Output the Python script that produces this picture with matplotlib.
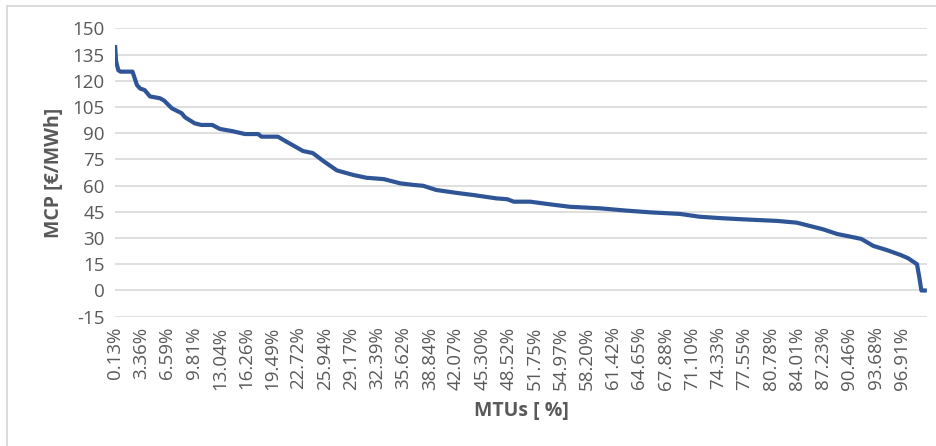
import matplotlib
matplotlib.use('Agg')
import matplotlib.pyplot as plt
from matplotlib.lines import Line2D

plt.rcParams['font.family'] = ['Open Sans', 'DejaVu Sans']
plt.rcParams['axes.unicode_minus'] = False

# MTU index (hour of month, 1..744) and market clearing price
mtu_hour = [1, 2, 4, 6, 17, 21, 24, 28, 33, 42, 46, 53, 62, 65, 74, 80, 90, 97,
            108, 120, 132, 135, 150, 158, 173, 182, 192, 204, 219, 231, 247, 262,
            274, 283, 295, 314, 329, 350, 360, 366, 381, 399, 417, 445, 469, 491,
            518, 536, 555, 576, 607, 625, 637, 649, 662, 674, 684, 695, 707, 720,
            727, 735, 737, 739, 744]
mcp = [140.4, 131.0, 126.0, 125.2, 125.2, 117.6, 115.5, 114.7, 111.0, 110.0,
       108.6, 104.2, 101.4, 99.1, 95.6, 94.7, 94.7, 92.4, 91.2, 89.5, 89.5, 88.0,
       88.0, 85.1, 79.8, 78.6, 73.9, 68.7, 66.1, 64.5, 63.7, 61.3, 60.4, 59.9,
       57.5, 55.8, 54.6, 52.7, 52.2, 50.8, 50.8, 49.3, 47.9, 47.0, 45.7, 44.7,
       43.8, 42.2, 41.4, 40.7, 39.8, 38.8, 36.9, 35.0, 32.3, 30.8, 29.5, 25.5,
       23.2, 20.3, 18.4, 15.0, 7.9, 0.0, 0.0]

n_mtu = 744
tick_hours = list(range(1, n_mtu + 1, 24))
tick_labels = ['0.13%', '3.36%', '6.59%', '9.81%', '13.04%', '16.26%', '19.49%',
               '22.72%', '25.94%', '29.17%', '32.39%', '35.62%', '38.84%', '42.07%',
               '45.30%', '48.52%', '51.75%', '54.97%', '58.20%', '61.42%', '64.65%',
               '67.88%', '71.10%', '74.33%', '77.55%', '80.78%', '84.01%', '87.23%',
               '90.46%', '93.68%', '96.91%']
y_ticks = list(range(-15, 151, 15))

txt = '#595959'
grid = '#D9D9D9'

fig = plt.figure(figsize=(9.36, 4.46), dpi=100)
ax = fig.add_axes([114.5 / 936, 1 - 316.7 / 446, (927.4 - 114.5) / 936, (316.7 - 28.3) / 446])

ax.plot(mtu_hour, mcp, color='#2F5597', linewidth=3.0, solid_joinstyle='round',
        solid_capstyle='butt', zorder=3)

ax.set_xlim(0.5, n_mtu + 0.5)
ax.set_ylim(-15, 150)
ax.set_yticks(y_ticks)
ax.set_xticks(tick_hours)
ax.set_xticklabels(tick_labels, rotation=90)

ax.yaxis.grid(True, color=grid, linewidth=1.2)
ax.set_axisbelow(True)
for s in ax.spines.values():
    s.set_visible(False)
ax.tick_params(axis='both', length=0, colors=txt, labelsize=13.5)
ax.tick_params(axis='y', pad=7)
ax.tick_params(axis='x', pad=7)

ax.set_ylabel('MCP [€/MWh]', fontsize=14, fontweight='bold', color=txt, labelpad=6)
ax.set_xlabel('MTUs [ %]', fontsize=14, fontweight='bold', color=txt, labelpad=8)

# chart area border (left and top edges visible)
fig.add_artist(Line2D([7.5 / 936, 7.5 / 936], [0, 1 - 6 / 446], transform=fig.transFigure,
                      color=grid, linewidth=1.3))
fig.add_artist(Line2D([7.5 / 936, 1], [1 - 6 / 446, 1 - 6 / 446], transform=fig.transFigure,
                      color=grid, linewidth=1.3))

fig.savefig('out.png', dpi=100)
